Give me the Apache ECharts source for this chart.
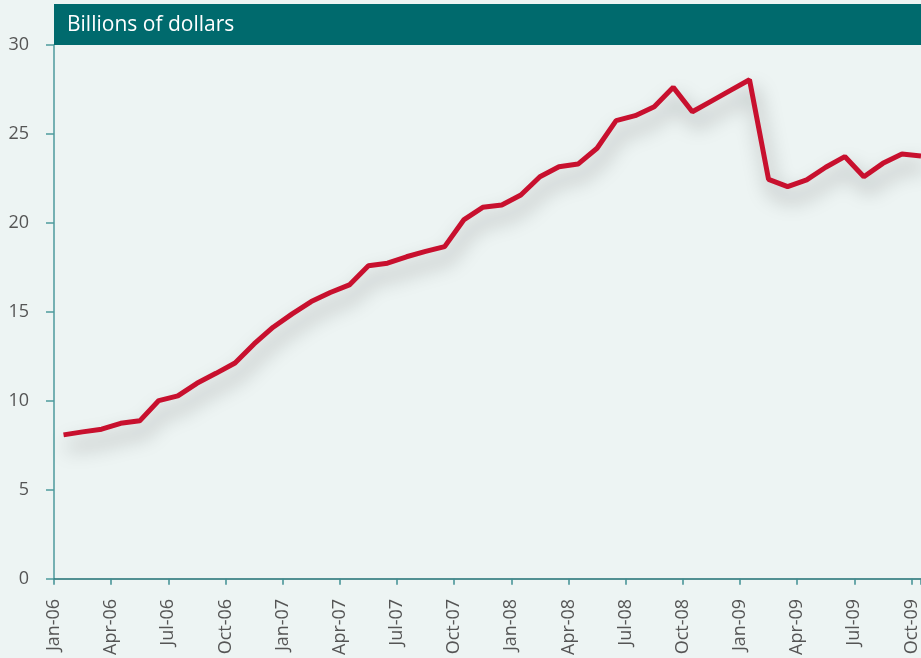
<!DOCTYPE html>
<html>
<head>
<meta charset="utf-8">
<script src="https://cdn.jsdelivr.net/npm/echarts@6/dist/echarts.min.js"></script>
<style>
  html, body { margin: 0; padding: 0; background: #edf4f3; }
  #main { width: 921px; height: 658px; }
</style>
</head>
<body>
<div id="main"></div>
<script>
// monthly values, Jan-06 .. Oct-09 (billions of dollars)
const values = [
  8.09, 8.26, 8.41, 8.74, 8.88, 10.02, 10.28, 10.99, 11.55, 12.13,
  13.2, 14.14, 14.89, 15.58, 16.09, 16.52, 17.6, 17.74, 18.1, 18.4,
  18.67, 20.17, 20.88, 21.01, 21.57, 22.6, 23.16, 23.31, 24.2, 25.75,
  26.03, 26.53, 27.62, 26.25, 26.85, 27.45, 28.05, 22.45, 22.04, 22.42,
  23.13, 23.73, 22.6, 23.35, 23.88, 23.76
];
// one label every 3 months
const xTickLabels = [
  "Jan-06", "Apr-06", "Jul-06", "Oct-06", "Jan-07", "Apr-07", "Jul-07", "Oct-07",
  "Jan-08", "Apr-08", "Jul-08", "Oct-08", "Jan-09", "Apr-09", "Jul-09", "Oct-09"
];
const yTicks = [0, 5, 10, 15, 20, 25, 30];

// each month sits in the middle of its slot
const points = values.map((v, i) => [i + 0.5, v]);

const myChart = echarts.init(document.getElementById("main"));

myChart.setOption({
  backgroundColor: "#edf4f3",
  animation: false,
  grid: { left: 54, top: 45, right: 0, bottom: 79 },
  graphic: [
    {
      type: "rect",
      shape: { x: 54, y: 4, width: 867, height: 41 },
      style: { fill: "#006a6d" },
      z: 10,
    },
    {
      type: "text",
      x: 67,
      y: 25,
      style: {
        text: "Billions of dollars",
        fill: "#ffffff",
        font: '21px "Open Sans"',
        verticalAlign: "middle",
      },
      z: 11,
    },
  ],
  xAxis: {
    type: "value",
    min: 0,
    max: 45.5,
    interval: 3,
    splitLine: { show: false },
    axisLine: { show: true, lineStyle: { color: "#1f6f73", width: 1.5 } },
    axisTick: { show: true, length: 6, lineStyle: { color: "#3f8f93", width: 1.5 } },
    axisLabel: {
      rotate: 90,
      margin: 20,
      color: "#555",
      fontSize: 18,
      fontFamily: "Open Sans",
      formatter: (v) => (v % 3 === 0 ? xTickLabels[v / 3] || "" : ""),
    },
  },
  yAxis: {
    type: "value",
    min: yTicks[0],
    max: yTicks[yTicks.length - 1],
    interval: 5,
    splitLine: { show: false },
    axisLine: { show: true, lineStyle: { color: "#4d9a9d", width: 1.5 } },
    axisTick: { show: true, length: 8, lineStyle: { color: "#4d9a9d", width: 1.5 } },
    axisLabel: {
      margin: 25,
      color: "#555",
      fontSize: 18,
      fontFamily: "Open Sans",
    },
  },
  series: [
    {
      type: "line",
      data: points,
      showSymbol: false,
      lineStyle: {
        color: "#c8102e",
        width: 5,
        shadowColor: "rgba(0,0,0,0.38)",
        shadowBlur: 20,
        shadowOffsetX: 4,
        shadowOffsetY: 12,
      },
      clip: false,
    },
  ],
});
</script>
</body>
</html>
